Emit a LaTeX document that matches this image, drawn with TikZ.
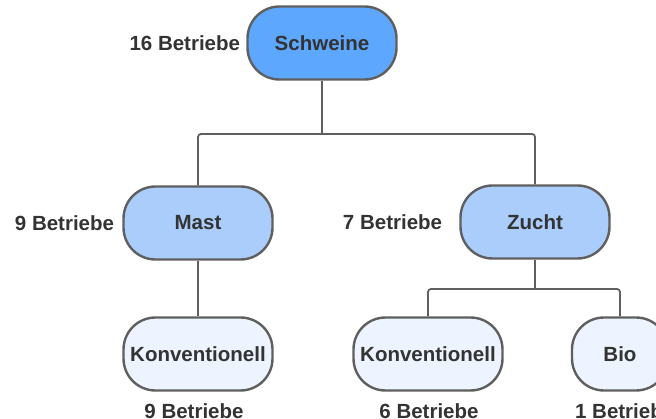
\documentclass[tikz,border=0pt]{standalone}
\usepackage{fontspec}
\setmainfont{Liberation Sans}
\usetikzlibrary{positioning}
\definecolor{svTop}{RGB}{94,167,255}
\definecolor{svMid}{RGB}{170,205,251}
\definecolor{svLow}{RGB}{237,244,255}
\definecolor{svLine}{RGB}{95,95,95}
\definecolor{svText}{RGB}{51,51,51}
\tikzset{
    base/.style={font=\fontsize{20.5}{24}\selectfont\bfseries, text=svText, align=center},
    box/.style={base, rectangle, rounded corners=32pt, draw=svLine, line width=2.4pt,
                minimum width=149pt, minimum height=73pt, inner sep=2pt},
    top/.style={box, fill=svTop},
    mid/.style={box, fill=svMid},
    low/.style={box, fill=svLow},
    count/.style={base, inner sep=0pt},
    link/.style={draw=svLine, line width=1.8pt, rounded corners=3pt}
}
\begin{document}
\begin{tikzpicture}[x=1pt, y=-1pt]
  \useasboundingbox (0,0) rectangle (656,419);

  % Nodes
  \node[top] (schweine) at (322,43) {Schweine};
  \node[mid] (mast) at (198,223) {Mast};
  \node[mid] (zucht) at (535,222) {Zucht};
  \node[low] (konvA) at (198,354) {Konventionell};
  \node[low] (konvB) at (428,354) {Konventionell};
  \node[low, minimum width=96pt] (bio) at (620,354) {Bio};

  % Counts
  \node[count, left=6pt of schweine] (nSchweine) {16 Betriebe};
  \node[count, left=8pt of mast] (nMast) {9 Betriebe};
  \node[count, left=17pt of zucht] (nZucht) {7 Betriebe};
  \node[count] (nKonvA) at (194,411) {9 Betriebe};
  \node[count] (nKonvB) at (429,411) {6 Betriebe};
  \node[count] (nBio) at (619,411) {1 Betrieb};

  % Links
  \coordinate (splitTop) at (322,134);
  \coordinate (splitLow) at (535,289);
  \draw[link] (schweine.south) -- (splitTop);
  \draw[link] (splitTop) -| (mast.north);
  \draw[link] (splitTop) -| (zucht.north);
  \draw[link] (mast.south) -- (konvA.north);
  \draw[link] (zucht.south) -- (splitLow);
  \draw[link] (splitLow) -| (konvB.north);
  \draw[link] (splitLow) -| (bio.north);
\end{tikzpicture}
\end{document}
